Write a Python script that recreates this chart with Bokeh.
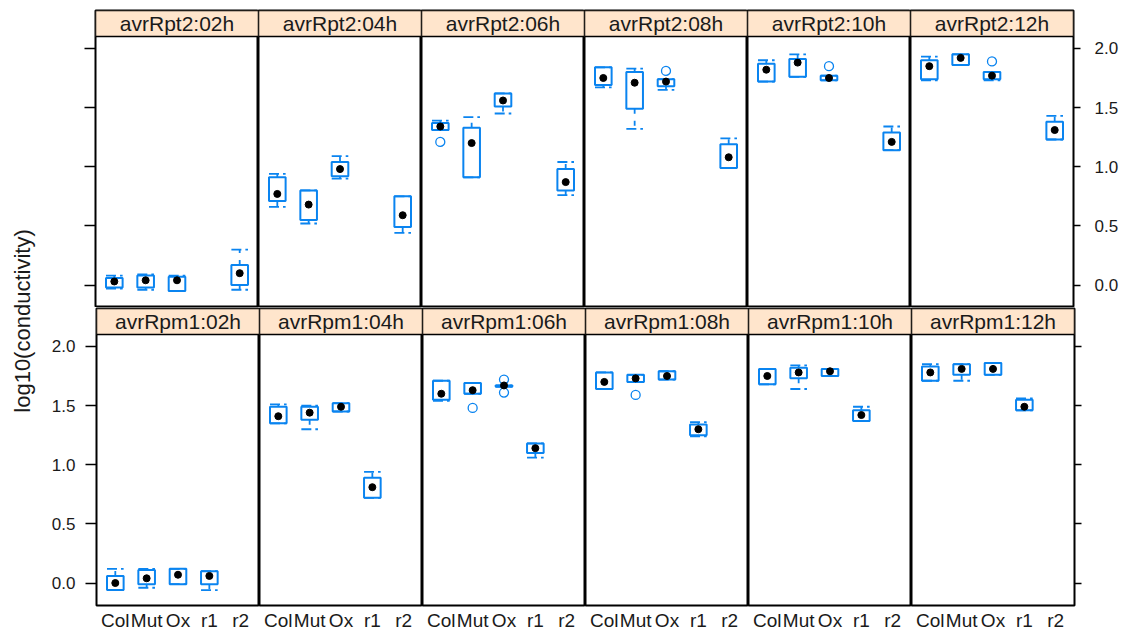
import math
from bokeh.plotting import figure
from bokeh.layouts import row, column
from bokeh.models import Range1d, FixedTicker, PrintfTickFormatter, CustomJSTickFormatter
from bokeh.core.properties import value
from bokeh.embed import file_html
from bokeh.resources import INLINE

# ---------------- data ----------------
genotypes = ["Col", "Mut", "Ox", "r1", "r2"]
times = ["02h", "04h", "06h", "08h", "10h", "12h"]
pathogens = ["avrRpt2", "avrRpm1"]
y_ticks = [0.0, 0.5, 1.0, 1.5, 2.0]
y_label = "log10(conductivity)"

N = None
# avrRpt2 : rows = times, columns = genotypes
rpt2_lo = [
    [-0.03, -0.04, -0.05, N, -0.04],
    [0.66, 0.52, 0.90, N, 0.44],
    [1.31, 0.91, 1.45, N, 0.76],
    [1.67, 1.32, 1.65, N, 0.99],
    [1.72, 1.76, 1.73, N, 1.14],
    [1.73, 1.86, 1.73, N, 1.23],
]
rpt2_q1 = [
    [-0.02, -0.02, -0.05, N, 0.00],
    [0.71, 0.55, 0.92, N, 0.49],
    [1.31, 0.91, 1.51, N, 0.80],
    [1.69, 1.49, 1.68, N, 0.99],
    [1.72, 1.76, 1.73, N, 1.14],
    [1.74, 1.86, 1.74, N, 1.23],
]
rpt2_med = [
    [0.03, 0.04, 0.04, N, 0.10],
    [0.77, 0.68, 0.98, N, 0.59],
    [1.34, 1.20, 1.56, N, 0.87],
    [1.75, 1.71, 1.72, N, 1.08],
    [1.82, 1.88, 1.75, N, 1.21],
    [1.85, 1.92, 1.77, N, 1.31],
]
rpt2_q3 = [
    [0.06, 0.08, 0.07, N, 0.17],
    [0.91, 0.80, 1.04, N, 0.75],
    [1.37, 1.33, 1.62, N, 0.98],
    [1.84, 1.80, 1.74, N, 1.19],
    [1.87, 1.91, 1.77, N, 1.29],
    [1.90, 1.95, 1.80, N, 1.38],
]
rpt2_hi = [
    [0.08, 0.09, 0.08, N, 0.30],
    [0.94, 0.80, 1.09, N, 0.75],
    [1.39, 1.42, 1.62, N, 1.04],
    [1.84, 1.83, 1.74, N, 1.24],
    [1.90, 1.95, 1.77, N, 1.34],
    [1.93, 1.95, 1.80, N, 1.43],
]
rpt2_out = [
    [[], [], [], [], []],
    [[], [], [], [], []],
    [[1.21], [], [], [], []],
    [[], [], [1.81], [], []],
    [[], [], [1.85], [], []],
    [[], [], [1.89], [], []],
]

# avrRpm1
rpm1_lo = [
    [-0.06, -0.04, -0.01, -0.06, N],
    [1.35, 1.30, 1.45, 0.72, N],
    [1.54, 1.60, 1.66, 1.06, N],
    [1.64, 1.70, 1.72, 1.24, N],
    [1.68, 1.64, 1.75, 1.37, N],
    [1.71, 1.71, 1.76, 1.46, N],
]
rpm1_q1 = [
    [-0.06, -0.01, -0.01, -0.01, N],
    [1.35, 1.38, 1.45, 0.72, N],
    [1.55, 1.60, 1.66, 1.10, N],
    [1.64, 1.70, 1.72, 1.25, N],
    [1.68, 1.73, 1.75, 1.37, N],
    [1.71, 1.76, 1.76, 1.46, N],
]
rpm1_med = [
    [0.00, 0.04, 0.07, 0.06, N],
    [1.41, 1.44, 1.49, 0.81, N],
    [1.60, 1.63, 1.67, 1.14, N],
    [1.70, 1.73, 1.75, 1.30, N],
    [1.75, 1.78, 1.79, 1.42, N],
    [1.78, 1.81, 1.81, 1.49, N],
]
rpm1_q3 = [
    [0.06, 0.11, 0.12, 0.10, N],
    [1.49, 1.49, 1.52, 0.89, N],
    [1.71, 1.69, 1.67, 1.18, N],
    [1.78, 1.76, 1.79, 1.34, N],
    [1.81, 1.82, 1.81, 1.46, N],
    [1.83, 1.85, 1.86, 1.55, N],
]
rpm1_hi = [
    [0.12, 0.12, 0.12, 0.10, N],
    [1.51, 1.50, 1.52, 0.94, N],
    [1.71, 1.69, 1.67, 1.18, N],
    [1.78, 1.76, 1.79, 1.36, N],
    [1.81, 1.84, 1.81, 1.49, N],
    [1.85, 1.85, 1.86, 1.56, N],
]
rpm1_out = [
    [[], [], [], [], []],
    [[], [], [], [], []],
    [[], [1.48], [1.72, 1.61], [], []],
    [[], [1.59], [], [], []],
    [[], [], [], [], []],
    [[], [], [], [], []],
]

stats = [
    (rpt2_lo, rpt2_q1, rpt2_med, rpt2_q3, rpt2_hi, rpt2_out),
    (rpm1_lo, rpm1_q1, rpm1_med, rpm1_q3, rpm1_hi, rpm1_out),
]

# ---------------- style ----------------
BLUE = "#0a84f0"
STRIP = "#ffe5cc"
FONT = "Liberation Sans"
FW, PANEL_H, STRIP_H = 163, 271, 26
FH = PANEL_H + STRIP_H
PPU = 118.3
Y_LO = -0.19
Y_PTOP = Y_LO + PANEL_H / PPU
Y_HI = Y_PTOP + STRIP_H / PPU
BW = 0.53
TOP_B, MID_B, BOT_B = 10, 1, 30
LEFT_W, LEFT_B, RIGHT_B = 48, 47, 52


def make_panel(r, c):
    first, last, bottom = c == 0, c == 5, r == 1
    yloc = "left" if first else ("right" if last else None)
    p = figure(
        title=None,
        frame_width=FW, frame_height=FH,
        x_range=Range1d(0.4, 5.6), y_range=Range1d(Y_LO, Y_HI),
        x_axis_location="below" if bottom else None,
        y_axis_location=yloc,
        min_border_left=LEFT_B if first else 0,
        min_border_right=RIGHT_B if last else 0,
        min_border_top=TOP_B if r == 0 else MID_B,
        min_border_bottom=BOT_B if bottom else 0,
        output_backend="svg", toolbar_location=None,
    )
    p.xgrid.visible = False
    p.ygrid.visible = False
    p.outline_line_color = "black"
    p.outline_line_width = 2
    p.background_fill_color = "white"
    p.border_fill_color = "white"

    if bottom:
        ax = p.xaxis[0]
        ax.ticker = FixedTicker(ticks=[i + 1 for i in range(len(genotypes))], minor_ticks=[])
        ax.major_label_overrides = {i + 1: g for i, g in enumerate(genotypes)}
        ax.axis_line_color = None
        ax.major_tick_out = 0
        ax.major_tick_in = 0
        ax.minor_tick_out = 0
        ax.minor_tick_in = 0
        ax.major_label_standoff = 4
        ax.major_label_text_font = FONT
        ax.major_label_text_font_size = "19px"
        ax.major_label_text_color = "#1a1a1a"

    if yloc is not None:
        ay = p.yaxis[0]
        ay.ticker = FixedTicker(ticks=y_ticks, minor_ticks=[])
        ay.axis_line_color = None
        ay.major_tick_in = 0
        ay.major_tick_out = 11 if first else 7
        ay.major_tick_line_width = 1.5
        ay.major_tick_line_color = "black"
        ay.minor_tick_out = 0
        ay.minor_tick_in = 0
        ay.major_label_standoff = 10 if first else 14
        ay.major_label_text_font = FONT
        ay.major_label_text_font_size = "17px"
        ay.major_label_text_color = "#1a1a1a"
        show_labels = (first and bottom) or (last and not bottom)
        if show_labels:
            ay.formatter = PrintfTickFormatter(format="%.1f")
        else:
            ay.formatter = CustomJSTickFormatter(code="return '';")

    # strip
    p.quad(left=[0.4], right=[5.6], bottom=[Y_PTOP], top=[Y_HI],
           fill_color=STRIP, line_color="black", line_width=1.5)
    p.text(x=[3.0], y=[(Y_PTOP + Y_HI) / 2], text=[f"{pathogens[r]}:{times[c]}"],
           text_align="center", text_baseline="middle",
           text_font=value(FONT), text_font_size="21px", text_color="#1a1a1a")

    lo, q1, med, q3, hi, out = (s[c] for s in stats[r])
    idx = [i for i in range(len(genotypes)) if med[i] is not None]
    xs = [i + 1 for i in idx]

    # boxes
    p.quad(left=[x - BW / 2 for x in xs], right=[x + BW / 2 for x in xs],
           bottom=[q1[i] for i in idx], top=[q3[i] for i in idx],
           fill_color=None, line_color=BLUE, line_width=2)
    # whiskers
    up = [i for i in idx if hi[i] > q3[i]]
    dn = [i for i in idx if lo[i] < q1[i]]
    p.segment(x0=[i + 1 for i in up], y0=[q3[i] for i in up],
              x1=[i + 1 for i in up], y1=[hi[i] for i in up],
              line_color=BLUE, line_width=1.8, line_dash="5 7")
    p.segment(x0=[i + 1 for i in dn], y0=[q1[i] for i in dn],
              x1=[i + 1 for i in dn], y1=[lo[i] for i in dn],
              line_color=BLUE, line_width=1.8, line_dash="5 7")
    # caps
    p.segment(x0=[x - BW / 2 for x in xs], y0=[hi[i] for i in idx],
              x1=[x + BW / 2 for x in xs], y1=[hi[i] for i in idx],
              line_color=BLUE, line_width=1.8, line_dash="10 4")
    p.segment(x0=[x - BW / 2 for x in xs], y0=[lo[i] for i in idx],
              x1=[x + BW / 2 for x in xs], y1=[lo[i] for i in idx],
              line_color=BLUE, line_width=1.8, line_dash="10 4")
    # outliers
    ox, oy = [], []
    for i in range(len(genotypes)):
        for v in out[i]:
            ox.append(i + 1)
            oy.append(v)
    if ox:
        p.scatter(x=ox, y=oy, marker="circle", size=9, fill_color=None,
                  line_color=BLUE, line_width=1.3)
    # medians
    p.scatter(x=xs, y=[med[i] for i in idx], marker="circle", size=7,
              fill_color="black", line_color="black")
    return p


rows = [row(*[make_panel(r, c) for c in range(6)]) for r in range(2)]
TOTAL_H = (TOP_B + FH) + (MID_B + FH + BOT_B)

lab = figure(title=None, frame_width=LEFT_W, frame_height=TOTAL_H,
             x_range=Range1d(0, LEFT_W), y_range=Range1d(0, TOTAL_H),
             x_axis_location=None, y_axis_location=None,
             min_border=0, output_backend="svg", toolbar_location=None)
lab.xgrid.visible = False
lab.ygrid.visible = False
lab.outline_line_color = None
lab.text(x=[22], y=[TOTAL_H - 320.5], text=[y_label], angle=math.pi / 2,
         text_align="center", text_baseline="middle",
         text_font=value(FONT), text_font_size="22px", text_color="#1a1a1a")

layout = row(lab, column(*rows))
open("out.html", "w").write(file_html(layout, INLINE))
